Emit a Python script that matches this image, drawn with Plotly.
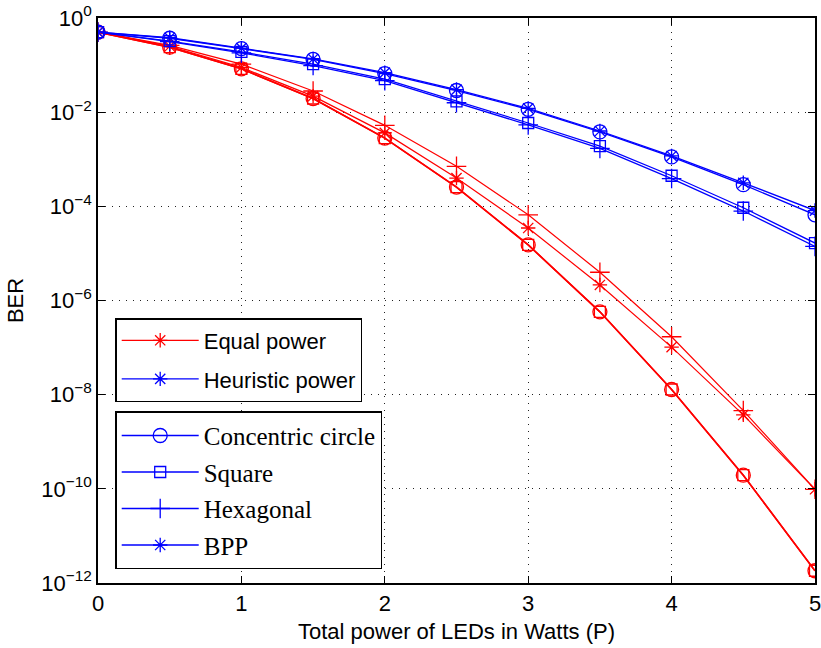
import plotly.graph_objects as go

# Data (log10 of BER)
P = [0, 0.5, 1, 1.5, 2, 2.5, 3, 3.5, 4, 4.5, 5]

heur_circle = [-0.30, -0.43, -0.65, -0.88, -1.18, -1.54, -1.94, -2.42, -2.95, -3.54, -4.18]
heur_bpp    = [-0.30, -0.42, -0.64, -0.87, -1.16, -1.52, -1.92, -2.40, -2.93, -3.50, -4.09]
heur_square = [-0.30, -0.49, -0.72, -0.98, -1.30, -1.77, -2.23, -2.72, -3.35, -4.03, -4.78]
heur_hex    = [-0.30, -0.50, -0.74, -1.01, -1.33, -1.80, -2.27, -2.77, -3.41, -4.10, -4.85]

eq_circle = [-0.30, -0.62, -1.08, -1.71, -2.55, -3.59, -4.82, -6.24, -7.89, -9.71, -11.74]
eq_square = [-0.30, -0.62, -1.08, -1.71, -2.55, -3.59, -4.82, -6.24, -7.89, -9.71, -11.74]
eq_bpp    = [-0.30, -0.60, -1.05, -1.66, -2.44, -3.40, -4.46, -5.67, -6.99, -8.43, -10.01]
eq_hex    = [-0.30, -0.58, -0.98, -1.55, -2.28, -3.15, -4.18, -5.40, -6.77, -8.34, -10.01]

y_tick_exp = [0, -2, -4, -6, -8, -10, -12]
x_ticks = [0, 1, 2, 3, 4, 5]

RED = "#FF0000"
BLUE = "#0000FF"
SANS = "Liberation Sans, Arial, Helvetica, sans-serif"
SERIF = "Liberation Serif, Times New Roman, serif"

symbols = {
    "circle": ("circle-open", 14),
    "square": ("square-open", 11),
    "hex": ("cross-thin-open", 14),
    "bpp": ("asterisk-open", 12),
}

def ber(vals):
    return [10 ** v for v in vals]

fig = go.Figure()

series = [
    (eq_circle, RED, "circle", 1.6), (eq_square, RED, "square", 1.6),
    (eq_hex, RED, "hex", 1.2), (eq_bpp, RED, "bpp", 1.2),
    (heur_circle, BLUE, "circle", 1.3), (heur_square, BLUE, "square", 1.3),
    (heur_hex, BLUE, "hex", 1.3), (heur_bpp, BLUE, "bpp", 1.3),
]
for vals, col, kind, lw in series:
    sym, sz = symbols[kind]
    fig.add_trace(go.Scatter(
        x=P, y=ber(vals), mode="lines+markers",
        line=dict(color=col, width=lw),
        marker=dict(symbol=sym, size=sz, color=col, line=dict(color=col, width=1.3)),
        showlegend=False, hoverinfo="skip"))

# Legend 1: power allocation
for name, col in [("Equal power", RED), ("Heuristic power", BLUE)]:
    fig.add_trace(go.Scatter(
        x=[None], y=[None], mode="lines+markers", name=name,
        line=dict(color=col, width=1.3),
        marker=dict(symbol="asterisk-open", size=12, color=col, line=dict(color=col, width=1.3)),
        legend="legend", legendgroup=name))

# Legend 2: LED arrangement
for name, kind in [("Concentric circle", "circle"), ("Square", "square"),
                   ("Hexagonal", "hex"), ("BPP", "bpp")]:
    sym, sz = symbols[kind]
    fig.add_trace(go.Scatter(
        x=[None], y=[None], mode="lines+markers", name=name,
        line=dict(color=BLUE, width=1.3),
        marker=dict(symbol=sym, size=sz, color=BLUE, line=dict(color=BLUE, width=1.3)),
        legend="legend2", legendgroup=name))

axis_common = dict(
    showline=True, linecolor="black", linewidth=1.5, mirror="ticks",
    ticks="inside", ticklen=7, tickcolor="black", tickwidth=1,
    showgrid=True, gridcolor="#222222", gridwidth=1, griddash="1px,6px",
    zeroline=False, automargin=False, ticklabeloverflow="allow",
    tickfont=dict(family=SANS, size=22, color="black"),
)

fig.update_xaxes(range=[0, 5], tickvals=x_ticks, ticktext=[str(t) for t in x_ticks],
                 title=dict(text="Total power of LEDs in Watts (P)",
                            font=dict(family=SANS, size=22, color="black"), standoff=8),
                 **axis_common)
fig.update_yaxes(type="log", range=[-12, 0],
                 tickvals=[10 ** e for e in y_tick_exp],
                 ticktext=["10<sup>%s</sup>" % (str(e).replace("-", "\u2212")) for e in y_tick_exp],
                 title=dict(text="BER", font=dict(family=SANS, size=22, color="black"), standoff=12),
                 **axis_common)

fig.update_layout(
    width=821, height=648,
    margin=dict(l=98, r=6, t=18, b=65),
    plot_bgcolor="white", paper_bgcolor="white",
    legend=dict(x=0.024, y=0.469, xanchor="left", yanchor="top",
                bgcolor="white", bordercolor="black", borderwidth=1.5,
                font=dict(family=SANS, size=22, color="black"),
                traceorder="grouped", tracegroupgap=7, itemwidth=77),
    legend2=dict(x=0.024, y=0.304, xanchor="left", yanchor="top",
                 bgcolor="white", bordercolor="black", borderwidth=1.5,
                 font=dict(family=SERIF, size=25, color="black"),
                 traceorder="grouped", tracegroupgap=1, itemwidth=77),
)

fig.write_html("out.html")
